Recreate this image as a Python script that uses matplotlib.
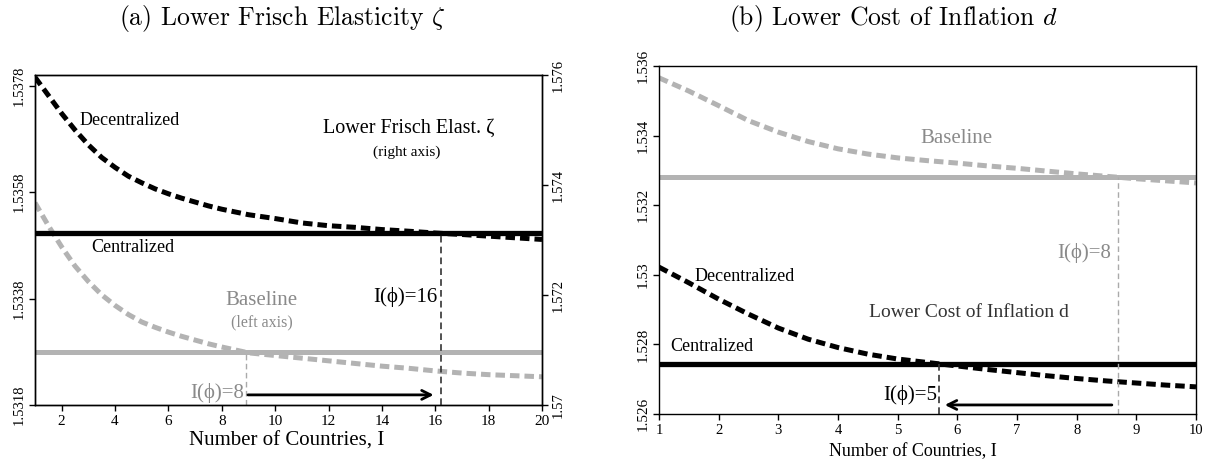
import matplotlib
matplotlib.use("Agg")
import matplotlib.pyplot as plt
from matplotlib.ticker import FixedLocator, FuncFormatter

plt.rcParams['font.family'] = ['Liberation Serif', 'DejaVu Serif']
plt.rcParams['mathtext.fontset'] = 'cm'

# ---------------- data: panel (a) ----------------
countries_a = [1, 1.5, 2, 2.5, 3, 3.5, 4, 4.5, 5, 5.5, 6, 6.5, 7, 7.5, 8,
               9, 10, 11, 12, 13, 14, 15, 16, 17, 18, 19, 20]
baseline_decentral_a = [1.53560, 1.53517, 1.53477, 1.53441, 1.53412, 1.53387, 1.53367,
                        1.53350, 1.53336, 1.53326, 1.53317, 1.53309, 1.53302, 1.53295,
                        1.53289, 1.53278, 1.53273, 1.53268, 1.53263, 1.53258, 1.53253,
                        1.53249, 1.53244, 1.53240, 1.53237, 1.53235, 1.53233]
baseline_central_a = 1.53279
frisch_decentral_a = [1.57596, 1.57563, 1.57530, 1.57500, 1.57473, 1.57450, 1.57432,
                      1.57416, 1.57404, 1.57393, 1.57384, 1.57376, 1.57369, 1.57362,
                      1.57356, 1.57346, 1.57339, 1.57331, 1.57326, 1.57323, 1.57319,
                      1.57316, 1.573127, 1.57310, 1.57307, 1.57304, 1.57301]
frisch_central_a = 1.57312
cross_baseline_a = 8.89
cross_frisch_a = 16.23
xticks_a = [2, 4, 6, 8, 10, 12, 14, 16, 18, 20]
yticks_left_a = [1.5318, 1.5338, 1.5358, 1.5378]
yticks_right_a = [1.570, 1.572, 1.574, 1.576]

# ---------------- data: panel (b) ----------------
countries_b = [1, 1.5, 2, 2.5, 3, 3.5, 4, 4.5, 5, 5.5, 6, 6.5, 7, 7.5, 8, 8.5, 9, 9.5, 10]
baseline_decentral_b = [1.53566, 1.53528, 1.53486, 1.53443, 1.53410, 1.53383, 1.53362,
                        1.53347, 1.53336, 1.53328, 1.53321, 1.53313, 1.53306, 1.53298,
                        1.53290, 1.53283, 1.53276, 1.53270, 1.53264]
baseline_central_b = 1.53280
cost_decentral_b = [1.53022, 1.52977, 1.52930, 1.52887, 1.52847, 1.52815, 1.52791,
                    1.52772, 1.52758, 1.52748, 1.52738, 1.52728, 1.52719, 1.52710,
                    1.52702, 1.52695, 1.52689, 1.52683, 1.52678]
cost_central_b = 1.52744
cross_baseline_b = 8.70
cross_cost_b = 5.69
xticks_b = list(range(1, 11))
yticks_b = [1.526, 1.528, 1.530, 1.532, 1.534, 1.536]

BLACK = '#000000'
GRAY_LINE = '#b3b3b3'
GRAY_TEXT = '#8a8a8a'
DASH = (1.9, 1.0)

fig = plt.figure(figsize=(12.14, 4.62), dpi=100)
W, H = 1214, 462

def add_axes(l, t, r, b):
    return fig.add_axes([l / W, 1 - b / H, (r - l) / W, (b - t) / H])

fmt = FuncFormatter(lambda v, p: ('%.4f' % v).rstrip('0').rstrip('.') if v else '0')

def style(ax, fs):
    for s in ax.spines.values():
        s.set_linewidth(1.0)
    ax.tick_params(direction='out', length=4, width=1.0, labelsize=fs, pad=3)

# ---------------- panel (a) ----------------
ax = add_axes(35, 75, 542, 405)
ax2 = ax.twinx()
ax.set_xlim(1, 20)
ax.set_ylim(1.5318, 1.5380)
ax2.set_ylim(1.570, 1.576)

ax.plot(countries_a, baseline_decentral_a, color=GRAY_LINE, lw=3.6, dashes=DASH,
        dash_capstyle='butt')
ax.axhline(baseline_central_a, color=GRAY_LINE, lw=3.6)
ax.vlines(cross_baseline_a, 1.5318, baseline_central_a, color='#aaaaaa', lw=1.0,
          linestyles=(0, (4, 2.5)))
ax2.plot(countries_a, frisch_decentral_a, color=BLACK, lw=3.6, dashes=DASH,
         dash_capstyle='butt')
ax2.axhline(frisch_central_a, color=BLACK, lw=3.8)
ax2.vlines(cross_frisch_a, 1.570, frisch_central_a, color='#333333', lw=1.2,
           linestyles=(0, (4, 2.5)))

ax.annotate('', xy=(15.94, 1.53199), xytext=(8.98, 1.53199),
            arrowprops=dict(arrowstyle='->', lw=2.0, color=BLACK,
                            mutation_scale=16, shrinkA=0, shrinkB=0))

ax.text(4.56, 1.53715, 'Decentralized', fontsize=13, ha='center', va='center')
ax.text(4.67, 1.53475, 'Centralized', fontsize=13, ha='center', va='center')
ax.text(9.50, 1.53377, 'Baseline', fontsize=15, ha='center', va='center', color=GRAY_TEXT)
ax.text(9.50, 1.53336, '(left axis)', fontsize=11.5, ha='center', va='center', color=GRAY_TEXT)
ax.text(15.0, 1.53700, 'Lower Frisch Elast. \u03b6', fontsize=14.5, ha='center', va='center')
ax.text(14.93, 1.53655, '(right axis)', fontsize=11, ha='center', va='center')
ax.text(16.09, 1.53383, 'I(\u03d5)=16', fontsize=15, ha='right', va='center')
ax.text(8.83, 1.53203, 'I(\u03d5)=8', fontsize=15, ha='right', va='center', color=GRAY_TEXT)

ax.xaxis.set_major_locator(FixedLocator(xticks_a))
ax.yaxis.set_major_locator(FixedLocator(yticks_left_a))
ax2.yaxis.set_major_locator(FixedLocator(yticks_right_a))
ax.yaxis.set_major_formatter(fmt)
ax2.yaxis.set_major_formatter(fmt)
style(ax, 11)
style(ax2, 11)
for lab in ax.get_yticklabels():
    lab.set_rotation(90); lab.set_va('center'); lab.set_fontsize(10.5)
for lab in ax2.get_yticklabels():
    lab.set_rotation(90); lab.set_va('center'); lab.set_fontsize(10.5)
ax.set_xlabel('Number of Countries, I', fontsize=15)
ax.xaxis.set_label_coords((287 - 35) / 507, -(441 - 405) / 330)
ax.xaxis.label.set_va('center')

# ---------------- panel (b) ----------------
bx = add_axes(659, 66, 1196, 414)
bx.set_xlim(1, 10)
bx.set_ylim(1.526, 1.536)
bx.plot(countries_b, baseline_decentral_b, color=GRAY_LINE, lw=3.6, dashes=DASH,
        dash_capstyle='butt')
bx.axhline(baseline_central_b, color=GRAY_LINE, lw=3.6)
bx.plot(countries_b, cost_decentral_b, color=BLACK, lw=3.6, dashes=DASH,
        dash_capstyle='butt')
bx.axhline(cost_central_b, color=BLACK, lw=3.8)
bx.vlines(cross_baseline_b, 1.526, baseline_central_b, color='#aaaaaa', lw=1.0,
          linestyles=(0, (4, 2.5)))
bx.vlines(cross_cost_b, 1.526, cost_central_b, color='#333333', lw=1.2,
          linestyles=(0, (4, 2.5)))
bx.annotate('', xy=(5.79, 1.52626), xytext=(8.59, 1.52626),
            arrowprops=dict(arrowstyle='->', lw=2.0, color=BLACK,
                            mutation_scale=16, shrinkA=0, shrinkB=0))

bx.text(5.99, 1.53393, 'Baseline', fontsize=15, ha='center', va='center', color=GRAY_TEXT)
bx.text(2.44, 1.52994, 'Decentralized', fontsize=13, ha='center', va='center')
bx.text(1.89, 1.52793, 'Centralized', fontsize=13, ha='center', va='center')
bx.text(6.19, 1.52893, 'Lower Cost of Inflation d', fontsize=14, ha='center', va='center',
        color='#333333')
bx.text(8.57, 1.53063, 'I(\u03d5)=8', fontsize=15, ha='right', va='center', color=GRAY_TEXT)
bx.text(5.66, 1.52655, 'I(\u03d5)=5', fontsize=15, ha='right', va='center')

bx.xaxis.set_major_locator(FixedLocator(xticks_b))
bx.yaxis.set_major_locator(FixedLocator(yticks_b))
bx.yaxis.set_major_formatter(fmt)
style(bx, 10.5)
for lab in bx.get_yticklabels():
    lab.set_rotation(90); lab.set_va('center'); lab.set_fontsize(11)
bx.set_xlabel('Number of Countries, I', fontsize=13)
bx.xaxis.set_label_coords((913 - 659) / 537, -(452 - 414) / 348)
bx.xaxis.label.set_va('center')

# ---------------- titles ----------------
fig.text(282 / W, 1 - 18 / H, r'(a) Lower Frisch Elasticity $\zeta$', fontsize=18.5,
         family='cmr10', ha='center', va='center')
fig.text(894 / W, 1 - 18 / H, r'(b) Lower Cost of Inflation $d$', fontsize=18.5,
         family='cmr10', ha='center', va='center')

fig.savefig('out.png', dpi=100)
